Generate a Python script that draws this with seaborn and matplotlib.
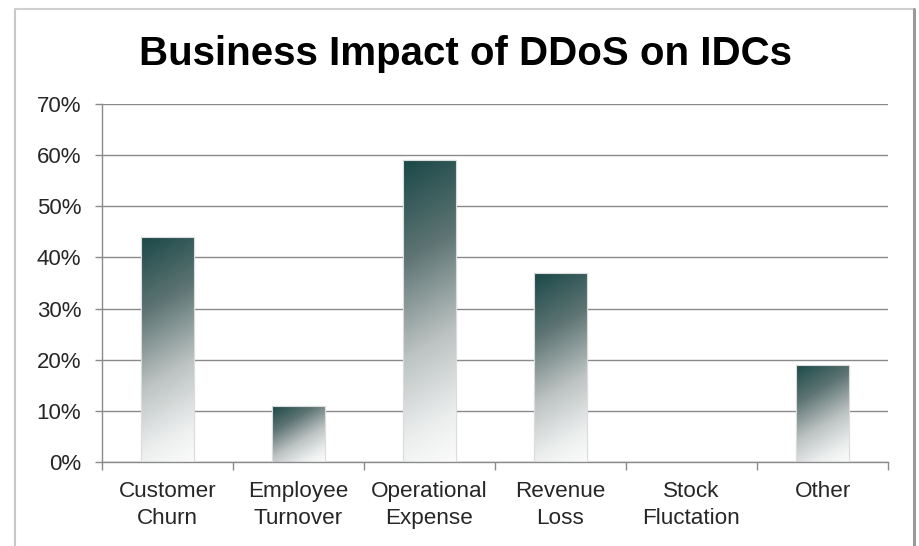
import numpy as np
import pandas as pd
import matplotlib
matplotlib.use("Agg")
import matplotlib.pyplot as plt
from matplotlib.colors import LinearSegmentedColormap
from matplotlib.patches import Rectangle
import seaborn as sns

# Share of IDCs reporting each business impact (%)
categories = ["Customer\nChurn", "Employee\nTurnover", "Operational\nExpense",
              "Revenue\nLoss", "Stock\nFluctation", "Other"]
impact_pct = [44, 11, 59, 37, 0, 19]
y_ticks = [0, 10, 20, 30, 40, 50, 60, 70]

df = pd.DataFrame({"category": categories, "pct": impact_pct})

sns.set_theme(style="white")
plt.rcParams["font.family"] = ["Liberation Sans", "DejaVu Sans"]

fig = plt.figure(figsize=(9.19, 5.46), dpi=100)
ax = fig.add_axes([102 / 919, 1 - 462 / 546, 786 / 919, 358 / 546])

sns.barplot(data=df, x="category", y="pct", ax=ax, width=0.4,
            color="white", edgecolor="#d9d9d9", linewidth=0.8, zorder=2)

ax.set_xlim(-0.5, len(categories) - 0.5)
ax.set_ylim(0, 70)

# teal-to-white fill, running diagonally across each bar in screen space
cmap = LinearSegmentedColormap.from_list(
    "teal_fade",
    [(0.0, "#1a4848"), (0.3, "#5d7473"), (0.6, "#bcc3c2"), (0.85, "#eceeee"), (1.0, "#fbfbfb")])
fig.canvas.draw()
hx = 0.6  # weight of the horizontal component of the fade
for patch in list(ax.patches):
    x0, y0 = patch.get_x(), patch.get_y()
    w, h = patch.get_width(), patch.get_height()
    if h <= 0:
        continue
    bb = patch.get_window_extent()
    pw, ph = max(int(round(bb.width)), 2), max(int(round(bb.height)), 2)
    xs = np.arange(pw)[None, :]
    ys = np.arange(ph)[:, None]
    t = (hx * xs + ys) / float(hx * (pw - 1) + ph - 1)
    im = ax.imshow(t, cmap=cmap, vmin=0, vmax=1, extent=(x0, x0 + w, y0, y0 + h),
                   origin="upper", aspect="auto", interpolation="bilinear", zorder=2.5)
    im.set_clip_path(patch)
    edge = Rectangle((x0, y0), w, h, fill=False, edgecolor="#dcdcdc", lw=0.8, zorder=3)
    ax.add_patch(edge)

ax.set_xlim(-0.5, len(categories) - 0.5)
ax.set_ylim(0, 70)
ax.set_aspect("auto")

grid_c = "#8a8a8a"
ax.set_yticks(y_ticks)
ax.set_yticklabels([f"{v}%" for v in y_ticks])
ax.yaxis.grid(True, color=grid_c, linewidth=1.0, zorder=0)
ax.set_axisbelow(True)

ax.set_xticks(range(len(categories)))
ax.set_xticklabels(categories, linespacing=1.35)
ax.set_xticks(np.arange(-0.5, len(categories)), minor=True)
ax.tick_params(axis="x", which="major", length=0, pad=14, labelsize=16.2, labelcolor="#262626")
ax.tick_params(axis="x", which="minor", length=6, width=1.0, color=grid_c, bottom=True)
ax.tick_params(axis="y", length=5, width=1.0, color=grid_c, pad=10, left=True,
               labelsize=16, labelcolor="#262626")

for s in ("top", "right"):
    ax.spines[s].set_visible(False)
for s in ("left", "bottom"):
    ax.spines[s].set_color(grid_c)
    ax.spines[s].set_linewidth(1.0)

ax.set_xlabel("")
ax.set_ylabel("")

fig.text(0.506, 1 - 65 / 546, "Business Impact of DDoS on IDCs", ha="center", va="baseline",
         fontsize=29, fontweight="bold", color="black")

# chart frame
fig.add_artist(plt.Line2D([15 / 919, 15 / 919], [0, 1 - 9 / 546], transform=fig.transFigure,
                          color="#c8c8c8", lw=1.5))
fig.add_artist(plt.Line2D([15 / 919, 914 / 919], [1 - 9 / 546, 1 - 9 / 546], transform=fig.transFigure,
                          color="#d0d0d0", lw=1.5))
fig.add_artist(plt.Line2D([914 / 919, 914 / 919], [0, 1 - 9 / 546], transform=fig.transFigure,
                          color="#9a9a9a", lw=2.2))

fig.savefig("out.png", dpi=100, facecolor="white")
